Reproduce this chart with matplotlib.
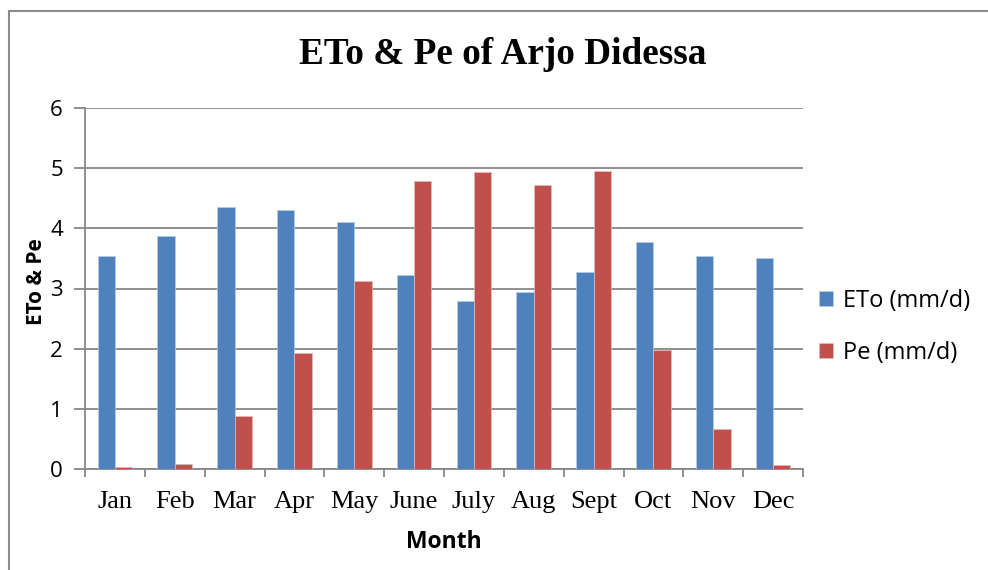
import matplotlib
matplotlib.use("Agg")
import matplotlib.pyplot as plt
import numpy as np
from matplotlib.patches import Rectangle

months = ['Jan', 'Feb', 'Mar', 'Apr', 'May', 'June', 'July', 'Aug', 'Sept', 'Oct', 'Nov', 'Dec']
eto = [3.54, 3.88, 4.36, 4.31, 4.11, 3.22, 2.79, 2.95, 3.27, 3.78, 3.54, 3.51]
pe = [0.03, 0.08, 0.88, 1.93, 3.12, 4.79, 4.93, 4.72, 4.96, 1.98, 0.67, 0.07]
series_labels = ['ETo (mm/d)', 'Pe (mm/d)']

blue = '#4f81bd'
red = '#c0504d'
grey = '#878787'

fig = plt.figure(figsize=(9.88, 5.70), dpi=100)
ax = fig.add_axes([85 / 988, 1 - 469 / 570, 718 / 988, 361 / 570])

# outer chart frame (partly cut off at right and bottom)
fig.patches.append(Rectangle((9 / 988, -0.05), 1.2, 1 - 11 / 570 + 0.05,
                             transform=fig.transFigure, fill=False,
                             edgecolor='#8c8c8c', linewidth=1.5))

x = np.arange(len(months))
w = 0.29
ax.bar(x - w / 2, eto, w, color=blue, edgecolor='#b9cde5', linewidth=0.5,
       label=series_labels[0], zorder=3)
ax.bar(x + w / 2, pe, w, color=red, edgecolor='#e6b9b8', linewidth=0.5,
       label=series_labels[1], zorder=3)

ax.set_xlim(-0.5, len(months) - 0.5)
ax.set_ylim(0, 6)
ax.set_yticks(range(7))
ax.yaxis.grid(True, color=grey, linewidth=1.3, zorder=0)

ax.set_xticks(x)
ax.set_xticklabels(months, family='Liberation Serif', fontsize=19)
ax.set_xticks(np.arange(-0.5, len(months)), minor=True)
ax.tick_params(axis='x', which='major', length=0, pad=16)
ax.tick_params(axis='x', which='minor', length=6, color=grey, width=1.3)
ax.tick_params(axis='y', length=8, color=grey, width=1.3, pad=8)
for lab in ax.get_yticklabels():
    lab.set_family('Open Sans')
    lab.set_fontsize(16)

for s in ['top', 'right']:
    ax.spines[s].set_visible(False)
for s in ['left', 'bottom']:
    ax.spines[s].set_color(grey)
    ax.spines[s].set_linewidth(1.3)

ax.set_xlabel('Month', family='Open Sans', fontweight='bold', fontsize=16.5, labelpad=12)
ax.set_ylabel('ETo & Pe', family='Open Sans', fontweight='bold', fontsize=15, labelpad=2)
ax.yaxis.set_label_coords(-0.053, 0.52)

fig.text(503 / 988, 1 - 55 / 570, 'ETo & Pe of Arjo Didessa', family='Liberation Serif',
         fontweight='bold', fontsize=26.8, ha='center', va='center')

ax.legend(loc='center left', bbox_to_anchor=(0.993, 0.393), frameon=False,
          prop={'family': 'Open Sans', 'size': 17}, handlelength=0.6,
          handleheight=0.6, handletextpad=0.4, labelspacing=1.2)

fig.savefig('out.png', dpi=100)
